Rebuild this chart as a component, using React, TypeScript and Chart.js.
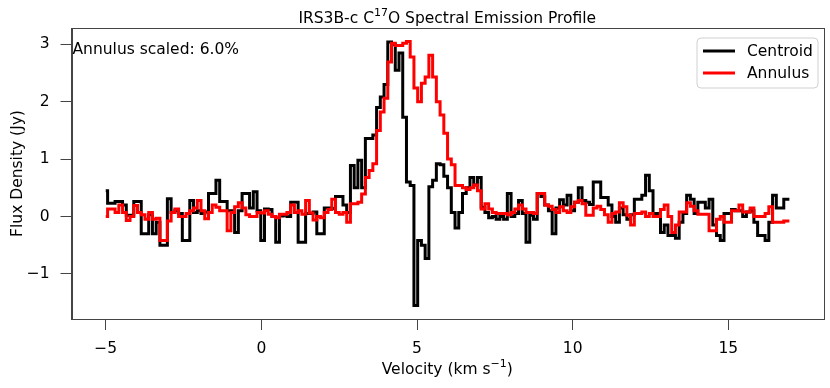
import React, { useEffect, useRef } from "react";
import { Chart, registerables } from "chart.js";

Chart.register(...registerables);

// Velocity grid (km/s): channel start and width
const VELOCITY_START = -5.0;
const CHANNEL_WIDTH = 0.12;

const CENTROID = [
  0.45, 0.23, 0.23, 0.26, 0.26, 0.2, 0.02, 0.02, 0.26, 0.26,
  -0.3, -0.3, 0.03, -0.3, -0.1, -0.5, -0.5, 0.31, 0.07, 0.1,
  0.05, -0.42, -0.42, 0.28, 0.07, 0.1, 0.05, 0.08, 0.4, 0.4,
  0.63, 0.26, 0.26, 0.1, 0.1, -0.28, 0.1, 0.4, 0.4, 0.15,
  0.43, 0.1, -0.42, 0.13, 0.12, 0.0, -0.45, 0.01, 0.02, 0.0,
  0.25, 0.25, -0.45, -0.45, 0.05, 0.05, 0.08, -0.3, -0.3, 0.15,
  0.15, 0.14, 0.35, 0.35, 0.2, 0.07, 0.89, 0.5, 0.98, 0.5,
  1.36, 1.36, 1.42, 1.9, 2.08, 2.3, 3.04, 3.0, 2.55, 2.85,
  1.73, 0.6, 0.54, -1.55, -0.42, -0.5, -0.73, 0.52, 0.63, 0.92,
  0.9, 0.7, 0.5, 0.07, -0.2, 0.07, 0.4, 0.5, 0.68, 0.55,
  0.68, 0.16, 0.07, -0.02, 0.0, -0.05, 0.0, -0.05, 0.4, 0.0,
  0.05, 0.28, 0.05, -0.45, 0.02, -0.05, 0.4, 0.35, 0.2, 0.1,
  -0.3, 0.15, 0.29, 0.2, 0.37, 0.1, 0.25, 0.5, 0.28, 0.25,
  0.21, 0.6, 0.6, 0.33, 0.33, 0.2, 0.0, -0.1, 0.15, 0.03,
  -0.05, 0.03, 0.3, 0.3, 0.37, 0.72, 0.45, 0.05, 0.05, -0.28,
  -0.15, -0.33, -0.33, -0.38, -0.1, 0.05, 0.37, 0.3, 0.05, 0.25,
  0.25, 0.15, 0.3, -0.15, -0.33, -0.42, 0.05, 0.05, 0.12, 0.1,
  0.1, 0.0, 0.08, 0.1, -0.1, -0.33, -0.33, -0.42, -0.1, 0.37,
  0.15, 0.15, 0.3, 0.3,
];

const ANNULUS = [
  0.0, 0.13, 0.13, 0.07, 0.2, 0.07, -0.07, 0.0, 0.19, 0.07,
  0.03, -0.05, 0.07, -0.05, -0.03, -0.42, -0.42, -0.08, 0.07, 0.13,
  0.0, 0.0, 0.05, 0.1, 0.15, 0.28, 0.1, -0.04, 0.07, 0.2,
  0.16, 0.1, 0.1, -0.25, 0.07, 0.17, 0.24, 0.15, 0.03, 0.0,
  0.0, 0.07, 0.06, 0.1, 0.04, 0.0, -0.02, 0.04, 0.04, 0.07,
  0.2, 0.07, 0.1, 0.04, 0.28, 0.06, -0.06, 0.0, -0.02, 0.07,
  0.12, 0.3, 0.07, 0.04, 0.07, -0.1, 0.22, 0.22, 0.25, 0.39,
  0.68, 0.8, 0.92, 1.5, 1.82, 2.06, 2.69, 3.02, 2.98, 2.98,
  3.02, 3.05, 2.78, 2.24, 2.0, 2.32, 2.43, 2.81, 2.43, 2.0,
  1.77, 1.45, 1.0, 0.9, 0.54, 0.54, 0.5, 0.47, 0.5, 0.55,
  0.45, 0.13, 0.22, 0.13, 0.07, 0.05, 0.05, 0.05, 0.03, 0.07,
  0.13, 0.2, 0.13, 0.07, 0.07, 0.05, 0.4, 0.4, 0.2, 0.18,
  0.12, 0.07, 0.17, 0.1, 0.07, 0.17, 0.25, 0.28, 0.22, 0.02,
  0.02, 0.15, 0.18, 0.12, 0.03, -0.1, 0.05, 0.08, 0.24, 0.17,
  0.02, -0.15, 0.05, 0.05, 0.08, 0.0, 0.05, 0.0, 0.0, 0.12,
  0.2, 0.0, -0.28, -0.15, 0.08, 0.08, 0.24, 0.18, 0.1, 0.04,
  0.04, 0.04, -0.25, -0.25, -0.05, 0.0, -0.1, -0.1, 0.1, 0.1,
  0.2, 0.08, 0.08, 0.15, 0.0, 0.0, 0.0, 0.05, 0.17, -0.1,
  -0.1, -0.1, -0.08, -0.08,
];

const X_TICKS = [-5, 0, 5, 10, 15];
const Y_TICKS = [-1, 0, 1, 2, 3];
const X_MIN = -6.1;
const X_MAX = 18.04;
const Y_MIN = -1.786;
const Y_MAX = 3.284;

const SERIES_LABELS = ["Centroid", "Annulus"];
const SERIES_COLORS = ["#000000", "#ff0000"];
const ANNOTATION = "Annulus scaled: 6.0%";

const FONT = "'DejaVu Sans', sans-serif";
const FS = 15.5;
const FS_SUP = 11;
const AXIS_COLOR = "#444444";

const fmt = (v: number) => (v < 0 ? "\u2212" + Math.abs(v) : String(v));

const toPoints = (vals: number[]) =>
  vals.map((y, i) => ({ x: VELOCITY_START + i * CHANNEL_WIDTH, y }));

const decorPlugin = {
  id: "decor",
  afterDraw(chart: any) {
    const { ctx, chartArea } = chart;
    const { left, right, top, bottom } = chartArea;
    ctx.save();
    // frame
    ctx.strokeStyle = AXIS_COLOR;
    ctx.lineWidth = 1;
    ctx.strokeRect(Math.round(left) + 0.5, Math.round(top) + 0.5, Math.round(right - left), Math.round(bottom - top));

    ctx.fillStyle = "#000";
    const big = `${FS}px ${FONT}`;
    const small = `${FS_SUP}px ${FONT}`;
    // title with superscript
    const cx = (left + right) / 2;
    const p1 = "IRS3B-c C";
    const p2 = "17";
    const p3 = "O Spectral Emission Profile";
    ctx.font = big;
    const w1 = ctx.measureText(p1).width;
    const w3 = ctx.measureText(p3).width;
    ctx.font = small;
    const w2 = ctx.measureText(p2).width;
    let tx = cx - (w1 + w2 + w3) / 2;
    const ty = 23;
    ctx.textBaseline = "alphabetic";
    ctx.textAlign = "left";
    ctx.font = big;
    ctx.fillText(p1, tx, ty);
    tx += w1;
    ctx.font = small;
    ctx.fillText(p2, tx, ty - 7);
    tx += w2;
    ctx.font = big;
    ctx.fillText(p3, tx, ty);

    // annotation
    ctx.font = big;
    ctx.fillText(ANNOTATION, left + 1, 54);

    // x axis label with superscript
    const xa = "Velocity (km s";
    const xb = "\u22121";
    const xc = ")";
    ctx.font = big;
    const wa = ctx.measureText(xa).width;
    const wc = ctx.measureText(xc).width;
    ctx.font = small;
    const wb = ctx.measureText(xb).width;
    let lx = cx - (wa + wb + wc) / 2;
    const ly = 374;
    ctx.font = big;
    ctx.fillText(xa, lx, ly);
    lx += wa;
    ctx.font = small;
    ctx.fillText(xb, lx, ly - 7);
    lx += wb;
    ctx.font = big;
    ctx.fillText(xc, lx, ly);

    // y axis label
    ctx.save();
    ctx.translate(22, (top + bottom) / 2);
    ctx.rotate(-Math.PI / 2);
    ctx.textAlign = "center";
    ctx.font = big;
    ctx.fillText("Flux Density (Jy)", 0, 0);
    ctx.restore();

    // legend
    const bx = 697, by = 38, bw = 121, bh = 50, r = 4;
    ctx.beginPath();
    ctx.moveTo(bx + r, by);
    ctx.lineTo(bx + bw - r, by);
    ctx.arcTo(bx + bw, by, bx + bw, by + r, r);
    ctx.lineTo(bx + bw, by + bh - r);
    ctx.arcTo(bx + bw, by + bh, bx + bw - r, by + bh, r);
    ctx.lineTo(bx + r, by + bh);
    ctx.arcTo(bx, by + bh, bx, by + bh - r, r);
    ctx.lineTo(bx, by + r);
    ctx.arcTo(bx, by, bx + r, by, r);
    ctx.closePath();
    ctx.fillStyle = "rgba(255,255,255,0.8)";
    ctx.fill();
    ctx.strokeStyle = "#d0d0d0";
    ctx.lineWidth = 1;
    ctx.stroke();

    const rows = [51, 73];
    SERIES_LABELS.forEach((lab, i) => {
      ctx.strokeStyle = SERIES_COLORS[i];
      ctx.lineWidth = 3;
      ctx.beginPath();
      ctx.moveTo(703, rows[i]);
      ctx.lineTo(735, rows[i]);
      ctx.stroke();
      ctx.fillStyle = "#000";
      ctx.font = big;
      ctx.textBaseline = "middle";
      ctx.textAlign = "left";
      ctx.fillText(lab, 747, rows[i] + 1);
    });
    ctx.restore();
  },
};

export default function App() {
  const ref = useRef<HTMLCanvasElement | null>(null);
  useEffect(() => {
    if (!ref.current) return;
    Chart.defaults.font.family = FONT;
    const tickOpts = {
      color: "#000",
      font: { family: FONT, size: FS },
      autoSkip: false,
      maxRotation: 0,
      callback: (v: any) => fmt(Number(v)),
    };
    const chart = new Chart(ref.current, {
      type: "line",
      data: {
        datasets: [
          {
            label: SERIES_LABELS[0],
            data: toPoints(CENTROID),
            borderColor: SERIES_COLORS[0],
            borderWidth: 3,
            pointRadius: 0,
            stepped: "middle",
            fill: false,
            order: 2,
          },
          {
            label: SERIES_LABELS[1],
            data: toPoints(ANNULUS),
            borderColor: SERIES_COLORS[1],
            borderWidth: 3,
            pointRadius: 0,
            stepped: "middle",
            fill: false,
            order: 1,
          },
        ],
      },
      options: {
        animation: false,
        responsive: false,
        parsing: false as any,
        layout: { padding: { top: 28, right: 7, left: 0, bottom: 0 } },
        plugins: {
          legend: { display: false },
          title: { display: false },
          tooltip: { enabled: false },
        },
        scales: {
          x: {
            type: "linear",
            min: X_MIN,
            max: X_MAX,
            afterBuildTicks: (s: any) => {
              s.ticks = X_TICKS.map((v) => ({ value: v }));
            },
            afterFit: (s: any) => {
              s.height = 69;
            },
            grid: { drawOnChartArea: false, tickLength: 11, color: AXIS_COLOR, tickWidth: 1 },
            border: { color: AXIS_COLOR, width: 1 },
            ticks: { ...tickOpts, padding: 10 },
          },
          y: {
            type: "linear",
            min: Y_MIN,
            max: Y_MAX,
            afterBuildTicks: (s: any) => {
              s.ticks = Y_TICKS.map((v) => ({ value: v }));
            },
            afterFit: (s: any) => {
              s.width = 71.5;
            },
            grid: { drawOnChartArea: false, tickLength: 11, color: AXIS_COLOR, tickWidth: 1 },
            border: { color: AXIS_COLOR, width: 1 },
            ticks: { ...tickOpts, padding: 11 },
          },
        },
      },
      plugins: [decorPlugin],
    });
    return () => chart.destroy();
  }, []);
  return (
    <div style={{ position: "fixed", left: 0, top: 0, width: 830, height: 388, background: "#fff" }}>
      <canvas ref={ref} width={830} height={388} style={{ width: 830, height: 388 }} />
    </div>
  );
}
